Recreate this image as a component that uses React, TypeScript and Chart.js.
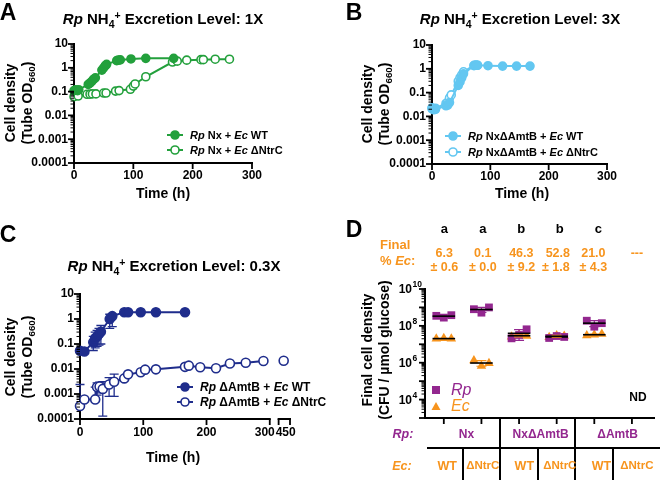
import React, { useEffect, useRef } from "react";
import { Chart, registerables } from "chart.js";

Chart.register(...registerables);

const FONT = "'Liberation Sans', Arial, Helvetica, sans-serif";
const GREEN = "#23a03c";
const LIGHT_BLUE = "#63c7f1";
const NAVY = "#1f2d8c";
const PURPLE = "#93278f";
const ORANGE = "#f7941d";

// ---------- Panel A (1X) ----------
const aWtTime = [0, 3, 6, 8, 24, 27, 30, 33, 36, 47, 50, 53, 55, 72, 75, 78, 96, 121, 168];
const aWtOD = [0.11, 0.12, 0.11, 0.12, 0.2, 0.23, 0.27, 0.33, 0.38, 0.8, 1.0, 1.25, 1.4, 2.0, 2.1, 2.15, 2.35, 2.5, 2.5];
const aNtrCTime = [0, 7, 22, 27, 31, 37, 50, 54, 70, 76, 95, 100, 103, 121, 166, 174, 190, 214, 218, 238, 262];
const aNtrCOD = [0.061, 0.065, 0.077, 0.078, 0.08, 0.08, 0.087, 0.087, 0.105, 0.11, 0.125, 0.17, 0.21, 0.42, 1.75, 1.9, 2.1, 2.2, 2.2, 2.3, 2.3];

// ---------- Panel B (3X) ----------
const bWtTime = [0, 3, 6, 24, 27, 30, 45, 48, 51, 54, 72, 75, 78, 96, 121, 145, 168];
const bWtOD = [0.021, 0.019, 0.02, 0.028, 0.03, 0.038, 0.2, 0.28, 0.42, 0.62, 1.35, 1.4, 1.4, 1.35, 1.3, 1.3, 1.3];
const bNtrCTime = [0, 3, 6, 24, 27, 30, 33, 45, 48, 51, 54, 72, 75, 78];
const bNtrCOD = [0.023, 0.021, 0.022, 0.035, 0.04, 0.06, 0.08, 0.3, 0.42, 0.55, 0.75, 1.4, 1.45, 1.42];

// ---------- Panel C (0.3X) ----------
const cWtTime = [0, 7, 21, 24, 27, 30, 33, 47, 51, 70, 76, 96, 120, 166];
const cWtOD = [0.054, 0.05, 0.117, 0.17, 0.2, 0.25, 0.31, 1.0, 1.3, 1.85, 1.85, 1.85, 1.85, 1.85];
const cWtLow = [null, null, 0.055, 0.07, 0.08, 0.09, 0.1, 0.42, 0.5, null, null, null, null, null];
const cWtHigh = [null, null, 0.2, 0.3, 0.35, 0.42, 0.55, 1.55, 1.6, null, null, null, null, null];
const cNtrCTime = [0, 7, 24, 27, 31, 36, 46, 54, 70, 76, 96, 103, 120, 166, 172, 190, 215, 237, 262, 290, 450];
const cNtrCOD = [0.00033, 0.0006, 0.0006, 0.0019, 0.002, 0.0016, 0.0024, 0.0031, 0.0042, 0.0061, 0.0074, 0.0094, 0.0097, 0.0122, 0.0136, 0.0117, 0.0107, 0.0167, 0.0179, 0.021, 0.0215];
const cNtrCLow = [null, null, null, 0.0009, 0.0011, 0.00013, 0.0008, 0.0008, 0.0036, null, null, null, null, null, null, null, null, null, null, null, null];
const cNtrCHigh = [0.0024, null, 0.0019, 0.0028, 0.003, 0.0031, 0.0045, 0.0062, 0.0048, null, null, null, null, null, null, null, null, null, null, null, null];
const cXTicks = [0, 100, 200, 300, 450];
const cSecondSegment = [442, 460];

// ---------- Panel D ----------
const dRpStrain = ["Nx", "NxΔAmtB", "ΔAmtB"];
const dEcStrain = ["WT", "ΔNtrC", "WT", "ΔNtrC", "WT", "ΔNtrC"];
const dRpDensity = [[3.5e8, 2.8e8, 3.8e8], [8.0e8, 5.2e8, 1.0e9], [2.1e7, 3.2e7, 6.5e7], [2.2e7, 2.8e7, 2.5e7], [1.9e8, 9.0e7, 1.4e8], []];
const dEcDensity = [[2.0e7, 2.1e7, 2.0e7], [1.3e6, 6.6e5, 9.3e5], [2.6e7, 3.3e7, 2.8e7], [2.4e7, 3.0e7, 2.8e7], [3.0e7, 3.3e7, 3.6e7], []];
const dLetters = ["a", "a", "b", "b", "c", ""];
const dEcPercent = ["6.3", "0.1", "46.3", "52.8", "21.0", "---"];
const dEcPercentSd = ["± 0.6", "± 0.0", "± 9.2", "± 1.8", "± 4.3", ""];
const dYLabelExponents = [4, 6, 8, 10];

const timeTicks = [0, 100, 200, 300];

// D x mapping (must match the D chart's x scale)
const D_XMIN = 0.5;
const D_XMAX = 6.6;
const D_LEFT = 425;
const D_RIGHT = 660;
const D_UNIT = (D_RIGHT - D_LEFT) / (D_XMAX - D_XMIN);
const dColX = (i: number) => D_LEFT + (i + 1 - D_XMIN) * D_UNIT;

const TICK_FONT = { family: FONT, size: 12, weight: "bold" as const };

function logTicks(minExp: number, maxExp: number) {
  const out: { value: number; major: boolean }[] = [];
  for (let e = minExp; e < maxExp; e++) {
    for (let m = 1; m <= 9; m++) {
      out.push({ value: Number((m * Math.pow(10, e)).toPrecision(3)), major: m === 1 });
    }
  }
  out.push({ value: Number(Math.pow(10, maxExp).toPrecision(3)), major: true });
  return out;
}

const border = { display: true, color: "#000", width: 2 };

function odYScale(width: number) {
  return {
    type: "logarithmic",
    min: 1e-4,
    max: 10,
    afterBuildTicks: (s: any) => {
      s.ticks = logTicks(-4, 1);
    },
    afterFit: (s: any) => {
      s.width = width;
    },
    ticks: {
      autoSkip: false,
      padding: 6,
      color: "#000",
      font: TICK_FONT,
      callback: (v: any, i: number, t: any[]) => (t[i] && t[i].major ? String(v) : ""),
    },
    grid: { display: false, drawTicks: false },
    border,
  };
}

function timeXScale() {
  return {
    type: "linear",
    min: 0,
    max: 300,
    afterBuildTicks: (s: any) => {
      s.ticks = timeTicks.map((v) => ({ value: v, major: true }));
    },
    afterFit: (s: any) => {
      s.height = 20;
    },
    ticks: { autoSkip: false, maxRotation: 0, padding: 5, color: "#000", font: TICK_FONT },
    grid: { display: false, drawTicks: false },
    border,
  };
}

function tickPlugin(axes: { x?: boolean; y?: boolean }) {
  return {
    id: "gpTicks",
    afterDraw(chart: any) {
      const { ctx, chartArea } = chart;
      ctx.save();
      ctx.strokeStyle = "#000";
      if (axes.y) {
        const s = chart.scales.y;
        for (const t of s.ticks) {
          const p = s.getPixelForValue(t.value);
          const len = t.major ? 5 : 2.5;
          ctx.lineWidth = t.major ? 1.8 : 1;
          ctx.beginPath();
          ctx.moveTo(chartArea.left - 1 - len, p);
          ctx.lineTo(chartArea.left, p);
          ctx.stroke();
        }
      }
      if (axes.x) {
        const s = chart.scales.x;
        for (const t of s.ticks) {
          const p = s.getPixelForValue(t.value);
          ctx.lineWidth = 1.8;
          ctx.beginPath();
          ctx.moveTo(p, chartArea.bottom);
          ctx.lineTo(p, chartArea.bottom + 6);
          ctx.stroke();
        }
      }
      ctx.restore();
    },
  };
}

function series(times: number[], values: number[], color: string, filled: boolean, mapX = (t: number) => t, radius = 4) {
  return {
    data: times.map((t, i) => ({ x: mapX(t), y: values[i] })),
    showLine: true,
    borderColor: color,
    backgroundColor: color,
    borderWidth: 2,
    pointRadius: radius,
    pointBorderWidth: 1.6,
    pointBackgroundColor: filled ? color : "#ffffff",
    pointBorderColor: color,
    clip: false,
  };
}

const baseOptions = {
  responsive: false,
  maintainAspectRatio: false,
  animation: false,
  events: [] as any[],
};

// C broken axis mapping: times after the break sit on a short second segment
const cAxisValue = (t: number) => (t <= 300 ? t : 322 + (t - 450));

function errorBarPlugin(bars: { times: number[]; low: (number | null)[]; high: (number | null)[]; values: number[]; color: string }[]) {
  return {
    id: "errBars",
    beforeDatasetsDraw(chart: any) {
      const { ctx } = chart;
      const xs = chart.scales.x;
      const ys = chart.scales.y;
      ctx.save();
      for (const b of bars) {
        ctx.strokeStyle = b.color;
        ctx.lineWidth = 1.3;
        b.times.forEach((t, i) => {
          const px = xs.getPixelForValue(cAxisValue(t));
          const pv = ys.getPixelForValue(b.values[i]);
          const ends = [b.low[i], b.high[i]];
          for (const e of ends) {
            if (e == null) continue;
            const pe = ys.getPixelForValue(e);
            ctx.beginPath();
            ctx.moveTo(px, pv);
            ctx.lineTo(px, pe);
            ctx.moveTo(px - 4.5, pe);
            ctx.lineTo(px + 4.5, pe);
            ctx.stroke();
          }
        });
      }
      ctx.restore();
    },
  };
}

const cAxisPlugin = {
  id: "cAxis",
  afterDraw(chart: any) {
    const { ctx, chartArea } = chart;
    const xs = chart.scales.x;
    const yb = chartArea.bottom;
    ctx.save();
    ctx.strokeStyle = "#000";
    ctx.lineWidth = 2;
    const p300 = xs.getPixelForValue(cAxisValue(300));
    const s1 = xs.getPixelForValue(cAxisValue(cSecondSegment[0]));
    const s2 = xs.getPixelForValue(cAxisValue(cSecondSegment[1]));
    ctx.beginPath();
    ctx.moveTo(chartArea.left - 1, yb);
    ctx.lineTo(p300 + 1, yb);
    ctx.moveTo(s1 - 1, yb);
    ctx.lineTo(s2 + 1, yb);
    ctx.stroke();
    ctx.lineWidth = 1.8;
    const tickPix = [...cXTicks.filter((t) => t <= 300).map((t) => xs.getPixelForValue(cAxisValue(t))), s1, s2];
    for (const p of tickPix) {
      ctx.beginPath();
      ctx.moveTo(p, yb);
      ctx.lineTo(p, yb + 6);
      ctx.stroke();
    }
    ctx.fillStyle = "#000";
    ctx.font = `bold 12px ${FONT}`;
    ctx.textBaseline = "middle";
    for (const t of cXTicks) {
      const p = xs.getPixelForValue(cAxisValue(t));
      let x = p;
      if (t === 300) {
        ctx.textAlign = "right";
        x = p + 5;
      } else if (t > 300) {
        ctx.textAlign = "left";
        x = p - 8;
      } else {
        ctx.textAlign = "center";
      }
      ctx.fillText(String(t), x, yb + 14);
    }
    ctx.restore();
  },
};

const dDecorPlugin = {
  id: "dDecor",
  afterDraw(chart: any) {
    const { ctx, chartArea, height, width } = chart;
    const xs = chart.scales.x;
    const ys = chart.scales.y;
    ctx.save();
    // y labels 10^n
    ctx.fillStyle = "#000";
    ctx.textBaseline = "middle";
    for (const e of dYLabelExponents) {
      const p = ys.getPixelForValue(Math.pow(10, e));
      ctx.font = `bold 12px ${FONT}`;
      ctx.textAlign = "right";
      const baseRight = chartArea.left - 13;
      ctx.fillText("10", baseRight, p + 1);
      ctx.font = `bold 8.5px ${FONT}`;
      ctx.textAlign = "left";
      ctx.fillText(String(e), baseRight + 0.5, p - 4);
    }
    // table lines
    ctx.strokeStyle = "#000";
    ctx.lineWidth = 2;
    const lineY = 208;
    ctx.beginPath();
    for (const v of [2.5, 4.5]) {
      const p = Math.round(xs.getPixelForValue(v));
      ctx.moveTo(p, chartArea.bottom);
      ctx.lineTo(p, height);
    }
    for (const v of [1.5, 3.5, 5.5]) {
      const p = Math.round(xs.getPixelForValue(v));
      ctx.moveTo(p, lineY);
      ctx.lineTo(p, height);
    }
    ctx.moveTo(chartArea.left + 2, lineY);
    ctx.lineTo(width, lineY);
    ctx.stroke();
    ctx.restore();
  },
  afterDatasetsDraw(chart: any) {
    const { ctx } = chart;
    const xs = chart.scales.x;
    const ys = chart.scales.y;
    ctx.save();
    const groups = [
      { reps: dRpDensity, color: PURPLE },
      { reps: dEcDensity, color: ORANGE },
    ];
    for (const g of groups) {
      g.reps.forEach((reps, ci) => {
        if (!reps.length) return;
        const mean = reps.reduce((a, b) => a + b, 0) / reps.length;
        const sd = Math.sqrt(reps.reduce((a, b) => a + (b - mean) * (b - mean), 0) / (reps.length - 1));
        const cx = xs.getPixelForValue(ci + 1);
        const pTop = ys.getPixelForValue(mean + sd);
        const pBot = ys.getPixelForValue(Math.max(mean - sd, 1e3));
        ctx.strokeStyle = g.color;
        ctx.lineWidth = 1.2;
        ctx.beginPath();
        ctx.moveTo(cx, pTop);
        ctx.lineTo(cx, pBot);
        ctx.moveTo(cx - 5, pTop);
        ctx.lineTo(cx + 5, pTop);
        ctx.moveTo(cx - 5, pBot);
        ctx.lineTo(cx + 5, pBot);
        ctx.stroke();
        const pm = ys.getPixelForValue(mean);
        const half = xs.getPixelForValue(ci + 1.3) - cx;
        ctx.strokeStyle = "#000";
        ctx.lineWidth = 1.6;
        ctx.beginPath();
        ctx.moveTo(cx - half, pm);
        ctx.lineTo(cx + half, pm);
        ctx.stroke();
      });
    }
    ctx.restore();
  },
};

function buildA() {
  return {
    type: "scatter",
    data: {
      datasets: [series(aWtTime, aWtOD, GREEN, true), series(aNtrCTime, aNtrCOD, GREEN, false)],
    },
    options: {
      ...baseOptions,
      layout: { padding: { left: 0, top: 44, right: 78, bottom: 57 } },
      plugins: { legend: { display: false }, tooltip: { enabled: false } },
      scales: { x: timeXScale(), y: odYScale(74) },
    },
    plugins: [tickPlugin({ x: true, y: true })],
  };
}

function buildB() {
  return {
    type: "scatter",
    data: {
      datasets: [series(bWtTime, bWtOD, LIGHT_BLUE, true), series(bNtrCTime, bNtrCOD, LIGHT_BLUE, false)],
    },
    options: {
      ...baseOptions,
      layout: { padding: { left: 0, top: 45, right: 53, bottom: 56 } },
      plugins: { legend: { display: false }, tooltip: { enabled: false } },
      scales: { x: timeXScale(), y: odYScale(102) },
    },
    plugins: [tickPlugin({ x: true, y: true })],
  };
}

function buildC() {
  const ntrc: any = series(cNtrCTime, cNtrCOD, NAVY, false, cAxisValue, 4.5);
  ntrc.segment = {
    borderColor: (ctx: any) => (ctx.p1.parsed.x > 300 ? "rgba(0,0,0,0)" : undefined),
  };
  return {
    type: "scatter",
    data: {
      datasets: [series(cWtTime, cWtOD, NAVY, true, cAxisValue, 4.5), ntrc],
    },
    options: {
      ...baseOptions,
      layout: { padding: { left: 0, top: 54, right: 40, bottom: 61 } },
      plugins: { legend: { display: false }, tooltip: { enabled: false } },
      scales: {
        x: { type: "linear", min: 0, max: 332, display: false },
        y: odYScale(80),
      },
    },
    plugins: [
      tickPlugin({ y: true }),
      cAxisPlugin,
      errorBarPlugin([
        { times: cWtTime, values: cWtOD, low: cWtLow, high: cWtHigh, color: NAVY },
        { times: cNtrCTime, values: cNtrCOD, low: cNtrCLow, high: cNtrCHigh, color: NAVY },
      ]),
    ],
  };
}

const dX = (ci: number, ri: number, n: number) => ci + 1 + (ri - (n - 1) / 2) * 0.2;

function buildD() {
  return {
    type: "scatter",
    data: {
      datasets: [
        {
          data: dRpDensity.flatMap((reps, ci) => reps.map((v, ri) => ({ x: dX(ci, ri, reps.length), y: v }))),
          pointStyle: "rect",
          pointRadius: 5.5,
          pointBorderWidth: 0,
          backgroundColor: PURPLE,
          borderColor: PURPLE,
          clip: false,
        },
        {
          data: dEcDensity.flatMap((reps, ci) => reps.map((v, ri) => ({ x: dX(ci, ri, reps.length), y: v }))),
          pointStyle: "triangle",
          pointRadius: 5.5,
          pointBorderWidth: 0,
          backgroundColor: ORANGE,
          borderColor: ORANGE,
          clip: false,
        },
      ],
    },
    options: {
      ...baseOptions,
      layout: { padding: { left: 0, top: 49, right: 0, bottom: 52 } },
      plugins: { legend: { display: false }, tooltip: { enabled: false } },
      scales: {
        x: {
          type: "linear",
          min: D_XMIN,
          max: D_XMAX,
          afterBuildTicks: (s: any) => {
            s.ticks = dEcStrain.map((_, i) => ({ value: i + 1, major: true }));
          },
          afterFit: (s: any) => {
            s.height = 10;
          },
          ticks: { display: false },
          grid: { display: false, drawTicks: false },
          border,
        },
        y: {
          type: "logarithmic",
          min: 1e3,
          max: 1e10,
          afterBuildTicks: (s: any) => {
            s.ticks = logTicks(3, 10);
          },
          afterFit: (s: any) => {
            s.width = 95;
          },
          ticks: { display: false },
          grid: { display: false, drawTicks: false },
          border,
        },
      },
    },
    plugins: [tickPlugin({ x: true, y: true }), dDecorPlugin],
  };
}

function ChartBox({ left, top, width, height, build }: { left: number; top: number; width: number; height: number; build: () => any }) {
  const ref = useRef<HTMLCanvasElement>(null);
  useEffect(() => {
    const chart = new Chart(ref.current as HTMLCanvasElement, build());
    return () => chart.destroy();
  }, []);
  return (
    <canvas
      ref={ref}
      width={width}
      height={height}
      style={{ position: "absolute", left, top, width, height }}
    />
  );
}

type TxtProps = {
  x: number;
  y: number;
  children: React.ReactNode;
  size?: number;
  color?: string;
  bold?: boolean;
  italic?: boolean;
  align?: "left" | "center" | "right";
  rotate?: boolean;
};

function Txt({ x, y, children, size = 12, color = "#000", bold = true, italic = false, align = "center", rotate = false }: TxtProps) {
  const tx = align === "left" ? "0" : align === "right" ? "-100%" : "-50%";
  return (
    <div
      style={{
        position: "absolute",
        left: x,
        top: y,
        transform: `translate(${tx}, -50%)${rotate ? " rotate(-90deg)" : ""}`,
        fontSize: size,
        color,
        fontWeight: bold ? 700 : 400,
        fontStyle: italic ? "italic" : "normal",
        whiteSpace: "nowrap",
        lineHeight: 1,
        fontFamily: FONT,
      }}
    >
      {children}
    </div>
  );
}

const Sub = ({ children }: { children: React.ReactNode }) => (
  <span style={{ fontSize: "0.7em", position: "relative", top: "0.35em" }}>{children}</span>
);
const Sup = ({ children }: { children: React.ReactNode }) => (
  <span style={{ fontSize: "0.7em", position: "relative", top: "-0.45em" }}>{children}</span>
);

function Title({ x, y, level }: { x: number; y: number; level: string }) {
  return (
    <Txt x={x} y={y} size={15}>
      <i>Rp</i> NH<Sub>4</Sub>
      <Sup>+</Sup> Excretion Level: {level}
    </Txt>
  );
}

function LineMarker({ x, y, color, filled }: { x: number; y: number; color: string; filled: boolean }) {
  return (
    <svg style={{ position: "absolute", left: x - 8, top: y - 6 }} width={16} height={12}>
      <line x1={0} y1={6} x2={16} y2={6} stroke={color} strokeWidth={2} />
      <circle cx={8} cy={6} r={4} fill={filled ? color : "#fff"} stroke={color} strokeWidth={1.6} />
    </svg>
  );
}

function LegendRow({ x, y, color, filled, size = 11, children }: { x: number; y: number; color: string; filled: boolean; size?: number; children: React.ReactNode }) {
  return (
    <>
      <LineMarker x={x} y={y} color={color} filled={filled} />
      <Txt x={x + 15} y={y} size={size} align="left">
        {children}
      </Txt>
    </>
  );
}

function YTitle({ x1, x2, y, line1, line2 }: { x1: number; x2: number; y: number; line1: React.ReactNode; line2: React.ReactNode }) {
  return (
    <>
      <Txt x={x1} y={y} size={14} rotate>
        {line1}
      </Txt>
      <Txt x={x2} y={y} size={14} rotate>
        {line2}
      </Txt>
    </>
  );
}

const odTitle = (
  <>
    (Tube OD<Sub>660</Sub>)
  </>
);

export default function App() {
  const rpGroups = dRpStrain.map((s, g) => ({ label: s, x: (dColX(2 * g) + dColX(2 * g + 1)) / 2 + (g === 0 ? 3 : 0) }));
  return (
    <div style={{ position: "relative", width: 660, height: 480, overflow: "hidden", background: "#fff", fontFamily: FONT }}>
      <style>{"body{margin:0;}"}</style>
      <ChartBox left={0} top={0} width={330} height={240} build={buildA} />
      <ChartBox left={330} top={0} width={330} height={240} build={buildB} />
      <ChartBox left={0} top={240} width={330} height={240} build={buildC} />
      <ChartBox left={330} top={240} width={330} height={240} build={buildD} />

      {/* panel letters */}
      <Txt x={8} y={12} size={23}>A</Txt>
      <Txt x={354} y={12} size={23}>B</Txt>
      <Txt x={8} y={234} size={23}>C</Txt>
      <Txt x={354} y={229} size={23}>D</Txt>

      {/* titles */}
      <Title x={163} y={18} level="1X" />
      <Title x={520} y={18} level="3X" />
      <Title x={174} y={265} level="0.3X" />

      {/* axis titles */}
      <YTitle x1={10} x2={27} y={103} line1="Cell density" line2={odTitle} />
      <YTitle x1={367} x2={384} y={104} line1="Cell density" line2={odTitle} />
      <YTitle x1={10} x2={27} y={357} line1="Cell density" line2={odTitle} />
      <YTitle x1={367} x2={384} y={350} line1="Final cell density" line2="(CFU / µmol glucose)" />
      <Txt x={163} y={193} size={14}>Time (h)</Txt>
      <Txt x={522} y={193} size={14}>Time (h)</Txt>
      <Txt x={173} y={457} size={14}>Time (h)</Txt>

      {/* legends */}
      <LegendRow x={175} y={135} color={GREEN} filled>
        <i>Rp</i> Nx + <i>Ec</i> WT
      </LegendRow>
      <LegendRow x={175} y={150} color={GREEN} filled={false}>
        <i>Rp</i> Nx + <i>Ec</i> ΔNtrC
      </LegendRow>
      <LegendRow x={453} y={136} color={LIGHT_BLUE} filled>
        <i>Rp</i> NxΔAmtB + <i>Ec</i> WT
      </LegendRow>
      <LegendRow x={453} y={152} color={LIGHT_BLUE} filled={false}>
        <i>Rp</i> NxΔAmtB + <i>Ec</i> ΔNtrC
      </LegendRow>
      <LegendRow x={185} y={387} color={NAVY} filled size={12}>
        <i>Rp</i> ΔAmtB + <i>Ec</i> WT
      </LegendRow>
      <LegendRow x={185} y={402} color={NAVY} filled={false} size={12}>
        <i>Rp</i> ΔAmtB + <i>Ec</i> ΔNtrC
      </LegendRow>

      {/* panel D legend */}
      <svg style={{ position: "absolute", left: 431, top: 385 }} width={10} height={10}>
        <rect x={1} y={1} width={8} height={8} fill={PURPLE} />
      </svg>
      <Txt x={451} y={390} size={16} color={PURPLE} bold={false} italic align="left">Rp</Txt>
      <svg style={{ position: "absolute", left: 431, top: 401 }} width={10} height={10}>
        <polygon points="5,1 9.5,9 0.5,9" fill={ORANGE} />
      </svg>
      <Txt x={451} y={406} size={16} color={ORANGE} bold={false} italic align="left">Ec</Txt>
      <Txt x={638} y={397} size={12}>ND</Txt>

      {/* panel D header: letters and % Ec */}
      {dLetters.map((l, i) => (l ? <Txt key={"l" + i} x={dColX(i)} y={228} size={13}>{l}</Txt> : null))}
      <Txt x={380} y={244} size={13} color={ORANGE} align="left">Final</Txt>
      <Txt x={380} y={260} size={13} color={ORANGE} align="left">
        % <i>Ec</i>:
      </Txt>
      {dEcPercent.map((v, i) => (
        <Txt key={"p" + i} x={dColX(i) - (i === 3 ? 2 : 0) - (i === 4 ? 5 : 0)} y={253} size={12.5} color={ORANGE}>{v}</Txt>
      ))}
      {dEcPercentSd.map((v, i) => (v ? <Txt key={"s" + i} x={dColX(i) - (i === 3 ? 4 : 0) - (i === 4 ? 5 : 0)} y={267} size={12.5} color={ORANGE}>{v}</Txt> : null))}

      {/* panel D table */}
      <Txt x={403} y={434} size={12.5} color={PURPLE} italic>Rp:</Txt>
      {rpGroups.map((g, i) => (
        <Txt key={"g" + i} x={g.x} y={434} size={12} color={PURPLE}>{g.label}</Txt>
      ))}
      <Txt x={402} y={466} size={12.5} color={ORANGE} italic>Ec:</Txt>
      {dEcStrain.map((s, i) => (
        <Txt key={"e" + i} x={dColX(i) + (s === "WT" ? 3 : 0)} y={466} size={s === "WT" ? 12.5 : 11.5} color={ORANGE}>{s}</Txt>
      ))}
    </div>
  );
}
